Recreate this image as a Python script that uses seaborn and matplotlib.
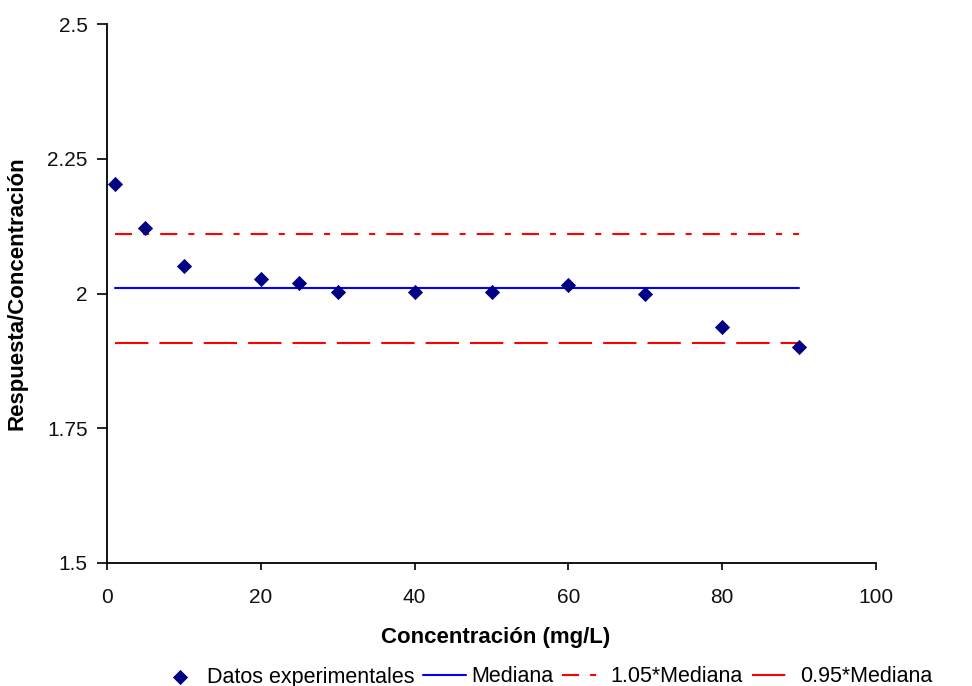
import numpy as np
import pandas as pd
import matplotlib
matplotlib.use("Agg")
import matplotlib.pyplot as plt
import seaborn as sns

# data
concentracion = [1, 5, 10, 20, 25, 30, 40, 50, 60, 70, 80, 90]
respuesta_conc = [2.203, 2.122, 2.051, 2.027, 2.019, 2.003, 2.003, 2.003, 2.016, 1.999, 1.938, 1.901]

df = pd.DataFrame({"x": concentracion, "y": respuesta_conc})
mediana = np.median(respuesta_conc)
x_line = [concentracion[0], concentracion[-1]]

sns.set_style("white")
plt.rcParams["font.family"] = ["Liberation Sans", "DejaVu Sans"]
plt.rcParams["text.color"] = "black"
plt.rcParams["axes.labelcolor"] = "black"

fig = plt.figure(figsize=(9.72, 6.86), dpi=100)
ax = fig.add_axes([107 / 972, 1 - 563 / 686, (876 - 107) / 972, (563 - 24) / 686])

sns.scatterplot(data=df, x="x", y="y", marker="D", s=60, color="#000080",
                edgecolor="#000080", linewidth=0, ax=ax, label="Datos experimentales", zorder=3)
sns.lineplot(x=x_line, y=[mediana, mediana], color="#0000FF", lw=1.5, ax=ax, label="Mediana")
sns.lineplot(x=x_line, y=[1.05 * mediana] * 2, color="#FF0000", lw=1.5, ax=ax,
             label="1.05*Mediana", linestyle=(0, (8.2, 5.3, 2.9, 5.3)))
sns.lineplot(x=x_line, y=[0.95 * mediana] * 2, color="#FF0000", lw=1.5, ax=ax,
             label="0.95*Mediana", linestyle=(0, (16, 5.3)))

ax.set_xlim(0, 100)
ax.set_ylim(1.5, 2.5)
ax.set_xticks([0, 20, 40, 60, 80, 100])
ax.set_yticks([1.5, 1.75, 2, 2.25, 2.5])
ax.set_yticklabels(["1.5", "1.75", "2", "2.25", "2.5"])
ax.tick_params(axis="both", bottom=True, left=True, direction="out", width=1.2,
               labelsize=15, color="black", labelcolor="#111111")
ax.tick_params(axis="y", length=7, pad=7)
ax.tick_params(axis="x", length=5, pad=13)
for side in ["top", "right"]:
    ax.spines[side].set_visible(False)
for side in ["left", "bottom"]:
    ax.spines[side].set_color("black")
    ax.spines[side].set_linewidth(1.3)

ax.set_xlabel("Concentración (mg/L)", fontsize=16, fontweight="bold")
ax.set_ylabel("Respuesta/Concentración", fontsize=16, fontweight="bold")
ax.xaxis.set_label_coords(0.505, -0.118)
ax.yaxis.set_label_coords(-0.103, 0.5)

ax.legend(loc="center left", bbox_to_anchor=(150 / 972, 1 - 677 / 686),
          bbox_transform=fig.transFigure, ncol=4, frameon=False,
          fontsize=15.5, handlelength=2.0, columnspacing=0.4, handletextpad=0.25, borderaxespad=0)

fig.savefig("out.png", dpi=100)
